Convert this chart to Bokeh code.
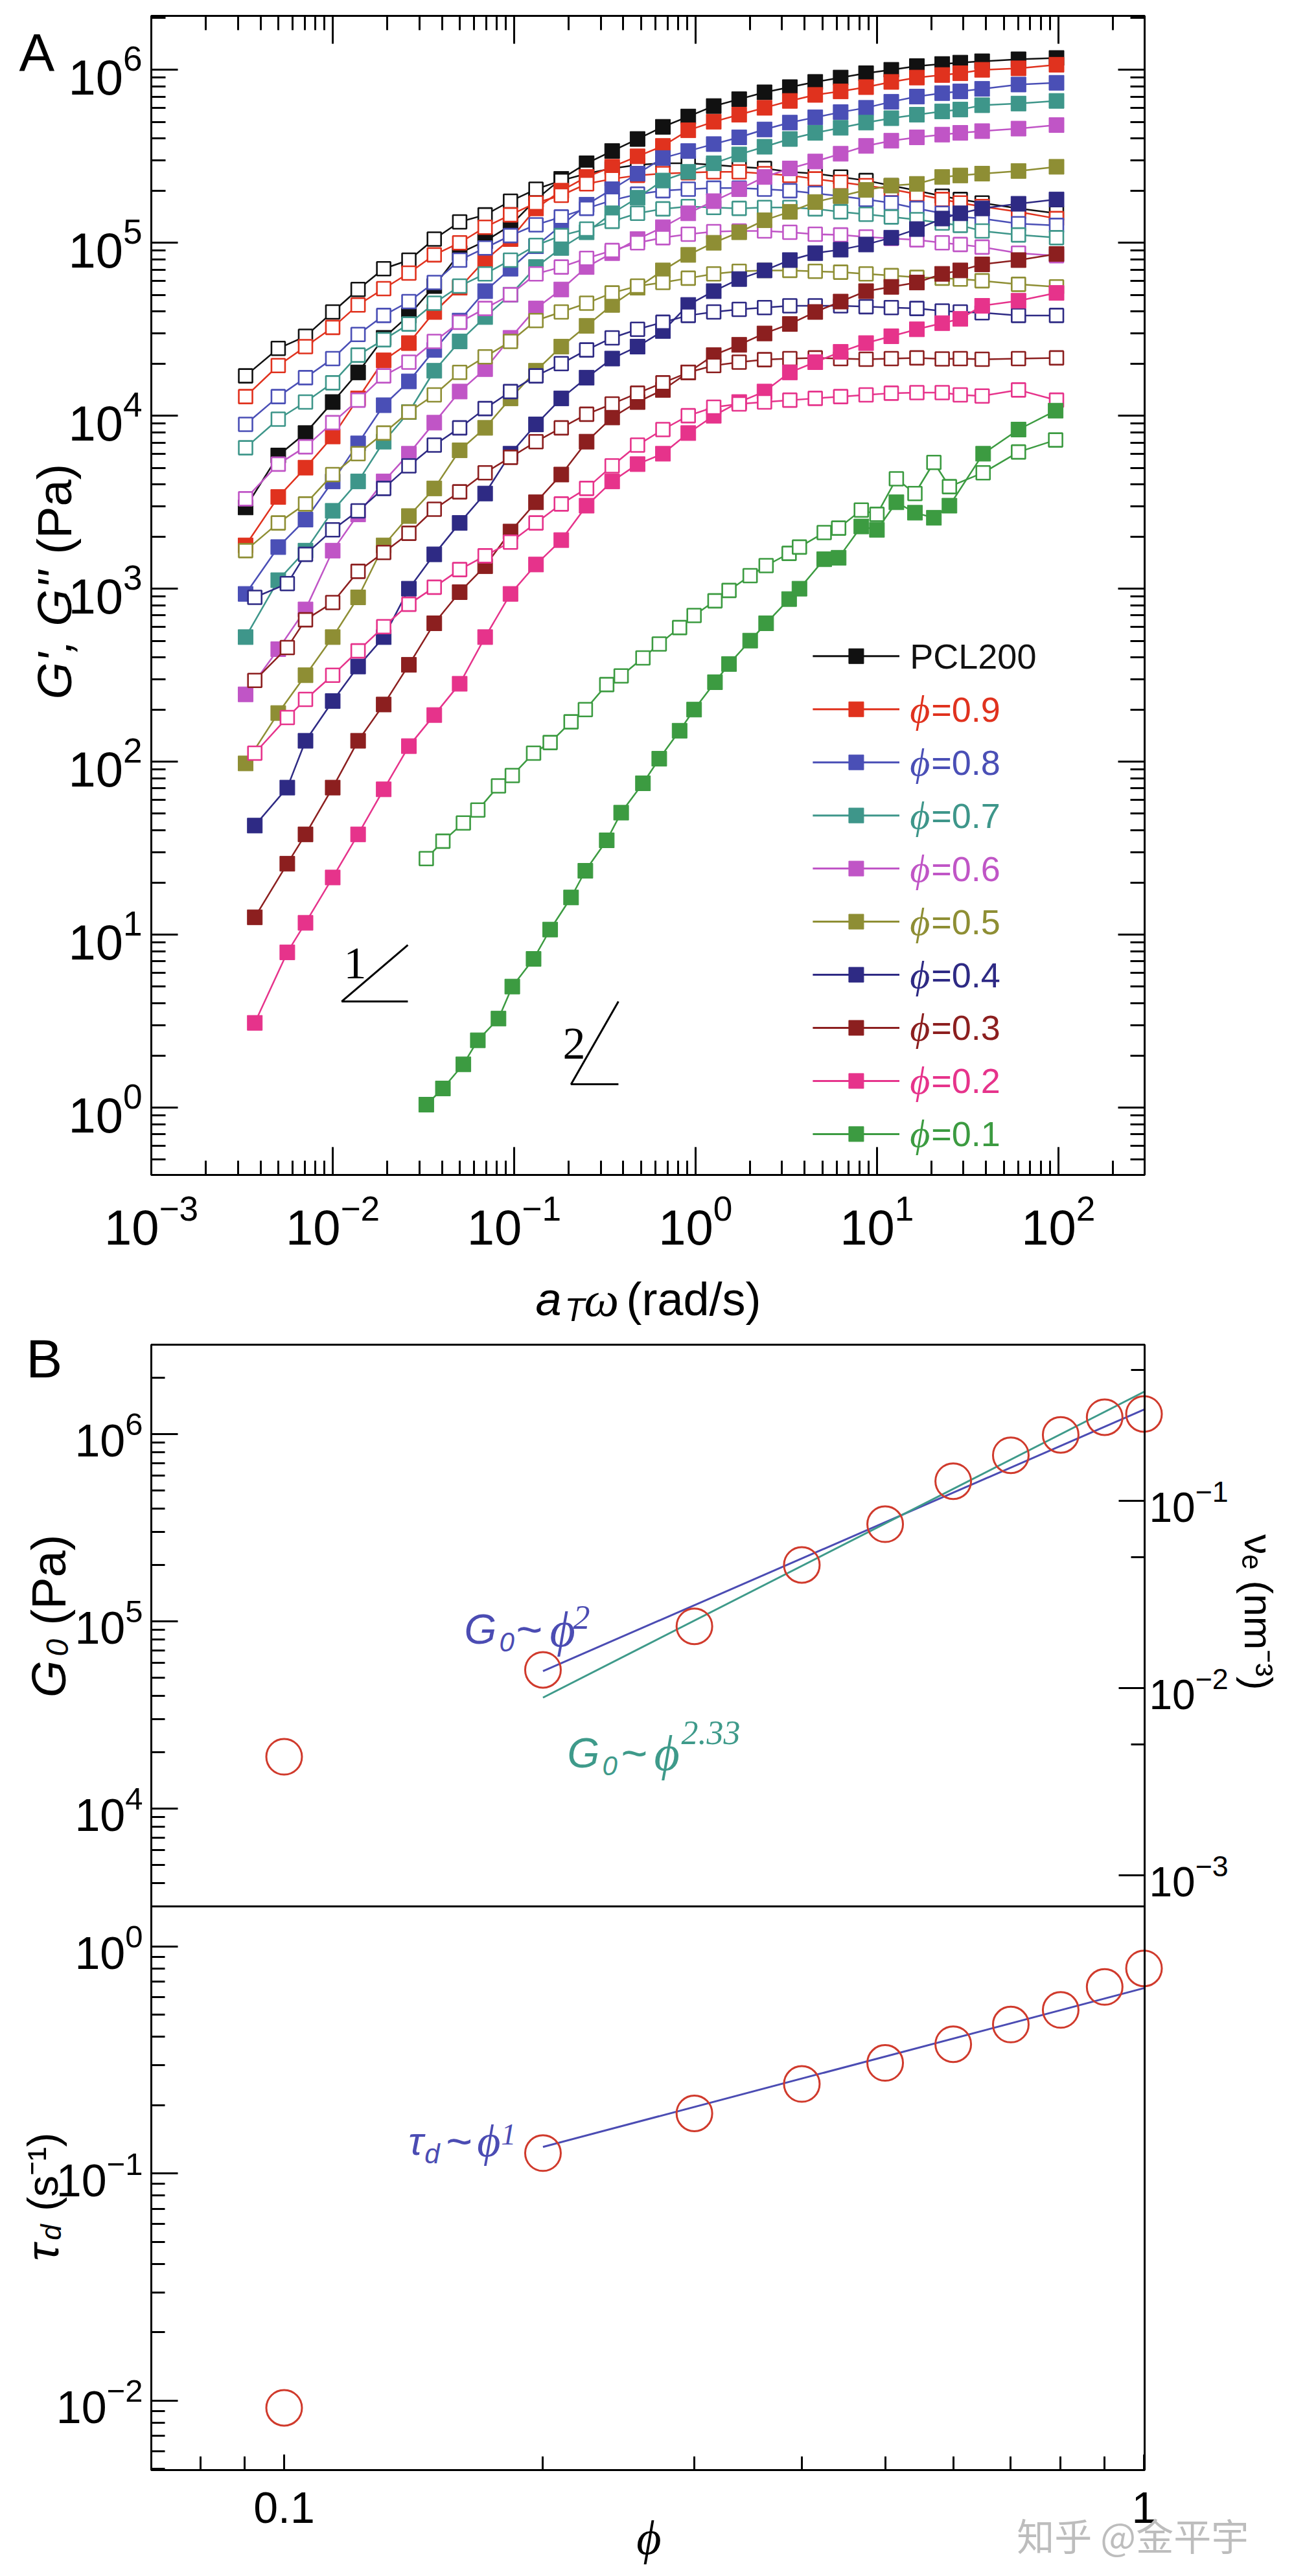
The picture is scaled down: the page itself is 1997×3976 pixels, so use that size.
import math
from bokeh.plotting import figure
from bokeh.models import (LogAxis, FixedTicker, Range1d, LogScale, Label, CustomJSTickFormatter,
                          BoxAnnotation)
from bokeh.embed import file_html
from bokeh.resources import INLINE

SANS = "Liberation Sans"
SERIF = "Liberation Serif"
PHI = "\u03d5"

# ---------------- Panel A data ----------------
freq = [3.31e-3, 5.01e-3, 7.08e-3, 1.00e-2, 1.38e-2, 1.91e-2, 2.63e-2, 3.63e-2, 5.01e-2, 6.92e-2,
        9.55e-2, 0.132, 0.182, 0.251, 0.347, 0.479, 0.661, 0.912, 1.26, 1.74, 2.40, 3.31, 4.57,
        6.31, 8.71, 12.0, 16.6, 22.9, 28.8, 38.0, 60.3, 97.7]
freq_b = [3.72e-3, 5.62e-3, 7.08e-3, 1.00e-2, 1.38e-2, 1.91e-2, 2.63e-2, 3.63e-2, 5.01e-2, 6.92e-2,
          9.55e-2, 0.132, 0.182, 0.251, 0.347, 0.479, 0.661, 0.912, 1.26, 1.74, 2.40, 3.31, 4.57,
          6.31, 8.71, 12.0, 16.6, 22.9, 28.8, 38.0, 60.3, 97.7]
freq_01 = [3.28e-2, 4.05e-2, 5.25e-2, 6.31e-2, 8.20e-2, 9.77e-2, 0.128, 0.158, 0.206, 0.247, 0.324,
           0.389, 0.513, 0.631, 0.817, 0.982, 1.28, 1.53, 2.00, 2.45, 3.28, 3.74, 5.12, 6.15, 8.20,
           10.0, 12.8, 16.2, 20.6, 25.1, 38.5, 60.3, 96.6]

Gp_pcl = [2.95e3, 5.89e3, 7.94e3, 1.20e4, 1.78e4, 2.82e4, 3.80e4, 5.62e4, 8.71e4, 1.02e5, 1.26e5, 1.78e5,
          2.34e5, 2.88e5, 3.39e5, 3.98e5, 4.68e5, 5.37e5, 6.17e5, 6.76e5, 7.41e5, 7.94e5, 8.51e5, 9.02e5,
          9.55e5, 1.00e6, 1.05e6, 1.08e6, 1.10e6, 1.12e6, 1.15e6, 1.17e6]
Gpp_pcl = [1.70e4, 2.45e4, 2.88e4, 3.98e4, 5.37e4, 7.08e4, 7.94e4, 1.05e5, 1.32e5, 1.45e5, 1.74e5, 2.04e5,
           2.29e5, 2.51e5, 2.69e5, 2.82e5, 2.88e5, 2.88e5, 2.82e5, 2.75e5, 2.69e5, 2.57e5, 2.51e5, 2.40e5,
           2.29e5, 2.14e5, 2.00e5, 1.86e5, 1.78e5, 1.70e5, 1.58e5, 1.48e5]
Gp_09 = [1.78e3, 3.39e3, 5.01e3, 7.59e3, 1.26e4, 2.09e4, 2.63e4, 3.98e4, 5.50e4, 7.94e4, 1.05e5, 1.58e5,
         2.00e5, 2.40e5, 2.75e5, 3.16e5, 3.63e5, 4.47e5, 5.01e5, 5.50e5, 6.03e5, 6.61e5, 7.16e5, 7.50e5,
         7.94e5, 8.51e5, 9.02e5, 9.33e5, 9.55e5, 1.00e6, 1.02e6, 1.07e6]
Gpp_09 = [1.29e4, 1.95e4, 2.51e4, 3.24e4, 4.37e4, 5.43e4, 6.68e4, 8.51e4, 1.00e5, 1.23e5, 1.45e5, 1.70e5,
          1.88e5, 2.19e5, 2.34e5, 2.45e5, 2.51e5, 2.54e5, 2.57e5, 2.57e5, 2.51e5, 2.45e5, 2.34e5, 2.24e5,
          2.14e5, 2.04e5, 1.91e5, 1.78e5, 1.70e5, 1.62e5, 1.51e5, 1.38e5]
Gp_08 = [933, 1.74e3, 2.51e3, 4.17e3, 6.92e3, 1.15e4, 1.58e4, 2.40e4, 3.55e4, 5.25e4, 7.08e4, 9.55e4,
         1.26e5, 1.66e5, 2.04e5, 2.51e5, 3.09e5, 3.39e5, 3.72e5, 4.07e5, 4.52e5, 4.95e5, 5.31e5, 5.69e5,
         6.03e5, 6.53e5, 7.00e5, 7.33e5, 7.50e5, 7.76e5, 8.22e5, 8.41e5]
Gpp_08 = [8.91e3, 1.29e4, 1.66e4, 2.14e4, 2.95e4, 3.80e4, 4.57e4, 5.89e4, 7.94e4, 9.33e4, 1.10e5, 1.27e5,
          1.41e5, 1.58e5, 1.76e5, 1.91e5, 2.00e5, 2.04e5, 2.07e5, 2.07e5, 2.04e5, 2.00e5, 1.93e5, 1.86e5,
          1.78e5, 1.70e5, 1.58e5, 1.48e5, 1.41e5, 1.38e5, 1.29e5, 1.26e5]
Gp_07 = [525, 1.12e3, 1.66e3, 2.82e3, 4.17e3, 7.08e3, 1.05e4, 1.82e4, 2.69e4, 3.72e4, 5.01e4, 7.24e4,
         9.33e4, 1.15e5, 1.48e5, 1.82e5, 2.29e5, 2.57e5, 2.88e5, 3.24e5, 3.59e5, 3.98e5, 4.32e5, 4.62e5,
         4.95e5, 5.25e5, 5.50e5, 5.75e5, 5.89e5, 6.24e5, 6.38e5, 6.61e5]
Gpp_07 = [6.53e3, 9.55e3, 1.20e4, 1.55e4, 2.24e4, 2.75e4, 3.39e4, 4.47e4, 5.62e4, 6.61e4, 7.94e4, 9.66e4,
          1.10e5, 1.20e5, 1.33e5, 1.48e5, 1.57e5, 1.62e5, 1.60e5, 1.58e5, 1.60e5, 1.60e5, 1.57e5, 1.51e5,
          1.46e5, 1.41e5, 1.36e5, 1.30e5, 1.26e5, 1.17e5, 1.11e5, 1.07e5]
Gp_06 = [245, 447, 759, 1.66e3, 2.69e3, 4.17e3, 6.03e3, 9.12e3, 1.38e4, 1.86e4, 2.82e4, 4.17e4,
         5.37e4, 7.24e4, 8.71e4, 1.05e5, 1.23e5, 1.48e5, 1.74e5, 2.04e5, 2.40e5, 2.69e5, 2.95e5, 3.27e5,
         3.63e5, 3.89e5, 4.07e5, 4.22e5, 4.32e5, 4.42e5, 4.57e5, 4.79e5]
Gpp_06 = [3.31e3, 5.25e3, 6.61e3, 9.12e3, 1.23e4, 1.70e4, 2.04e4, 2.69e4, 3.47e4, 4.17e4, 5.01e4, 6.61e4,
          7.24e4, 8.13e4, 9.02e4, 1.00e5, 1.07e5, 1.12e5, 1.16e5, 1.17e5, 1.17e5, 1.15e5, 1.12e5, 1.11e5,
          1.08e5, 1.06e5, 1.04e5, 1.00e5, 9.77e4, 9.44e4, 8.71e4, 8.41e4]
Gp_05 = [97.7, 191, 316, 525, 891, 1.78e3, 2.63e3, 3.80e3, 6.31e3, 8.51e3, 1.26e4, 1.82e4,
         2.51e4, 3.31e4, 4.37e4, 5.50e4, 6.92e4, 8.51e4, 1.00e5, 1.15e5, 1.35e5, 1.51e5, 1.72e5, 1.86e5,
         2.02e5, 2.14e5, 2.19e5, 2.40e5, 2.45e5, 2.51e5, 2.60e5, 2.75e5]
Gpp_05 = [1.66e3, 2.40e3, 3.09e3, 4.57e3, 6.03e3, 7.94e3, 1.05e4, 1.32e4, 1.78e4, 2.19e4, 2.69e4, 3.55e4,
          3.98e4, 4.47e4, 5.13e4, 5.62e4, 5.89e4, 6.24e4, 6.61e4, 6.84e4, 6.92e4, 6.92e4, 6.84e4, 6.76e4,
          6.61e4, 6.46e4, 6.31e4, 6.24e4, 6.17e4, 6.03e4, 5.75e4, 5.56e4]
Gp_04 = [42.7, 70.8, 132, 224, 355, 525, 1.00e3, 1.58e3, 2.40e3, 3.55e3, 6.03e3, 8.91e3,
         1.26e4, 1.66e4, 2.14e4, 2.51e4, 3.09e4, 4.37e4, 5.25e4, 6.17e4, 6.92e4, 7.94e4, 8.71e4, 9.12e4,
         9.77e4, 1.07e5, 1.20e5, 1.38e5, 1.48e5, 1.58e5, 1.68e5, 1.78e5]
Gpp_04 = [891, 1.07e3, 1.58e3, 2.19e3, 2.82e3, 3.80e3, 5.13e3, 6.76e3, 8.51e3, 1.10e4, 1.38e4, 1.70e4,
          2.00e4, 2.40e4, 2.82e4, 3.16e4, 3.47e4, 3.80e4, 3.98e4, 4.12e4, 4.22e4, 4.32e4, 4.32e4, 4.32e4,
          4.27e4, 4.22e4, 4.17e4, 4.03e4, 3.98e4, 3.94e4, 3.80e4, 3.80e4]
Gp_03 = [12.6, 25.7, 38.0, 70.8, 132, 214, 363, 631, 955, 1.35e3, 2.14e3, 3.16e3,
         4.57e3, 7.08e3, 9.77e3, 1.20e4, 1.41e4, 1.78e4, 2.24e4, 2.57e4, 2.99e4, 3.39e4, 3.98e4, 4.57e4,
         5.25e4, 5.56e4, 5.89e4, 6.61e4, 6.92e4, 7.50e4, 7.94e4, 8.61e4]
Gpp_03 = [295, 457, 661, 832, 1.26e3, 1.62e3, 2.09e3, 2.88e3, 3.63e3, 4.68e3, 5.75e3, 7.08e3,
          8.51e3, 1.02e4, 1.17e4, 1.35e4, 1.55e4, 1.78e4, 1.95e4, 2.04e4, 2.11e4, 2.14e4, 2.16e4, 2.14e4,
          2.12e4, 2.14e4, 2.16e4, 2.13e4, 2.14e4, 2.12e4, 2.14e4, 2.16e4]
Gp_02 = [3.09, 7.9, 11.7, 21.4, 38.0, 69.2, 123, 186, 282, 525, 933, 1.38e3,
         1.91e3, 3.02e3, 4.17e3, 5.25e3, 6.03e3, 7.94e3, 1.00e4, 1.20e4, 1.38e4, 1.78e4, 2.04e4, 2.34e4,
         2.63e4, 2.88e4, 3.16e4, 3.43e4, 3.63e4, 4.32e4, 4.62e4, 5.13e4]
Gpp_02 = [112, 180, 229, 316, 437, 603, 813, 1.02e3, 1.29e3, 1.55e3, 1.86e3, 2.40e3,
          3.09e3, 3.80e3, 5.13e3, 6.76e3, 8.32e3, 1.00e4, 1.12e4, 1.17e4, 1.20e4, 1.23e4, 1.26e4, 1.29e4,
          1.32e4, 1.35e4, 1.36e4, 1.36e4, 1.32e4, 1.30e4, 1.41e4, 1.23e4]
Gp_01 = [1.04, 1.29, 1.78, 2.45, 3.27, 5.01, 7.24, 10.7, 16.4, 23.4, 35.1, 50.7, 75.0, 104, 151, 200,
         288, 367, 501, 631, 871, 1.00e3, 1.48e3, 1.51e3, 2.29e3, 2.19e3, 3.16e3, 2.75e3, 2.57e3, 3.02e3,
         6.03e3, 8.32e3, 1.07e4]
Gpp_01 = [27.5, 34.7, 44.2, 52.5, 72.4, 83.2, 112, 129, 170, 200, 279, 313, 398, 479, 596, 700,
          851, 977, 1.19e3, 1.36e3, 1.60e3, 1.74e3, 2.11e3, 2.24e3, 2.85e3, 2.69e3, 4.32e3, 3.55e3, 5.37e3,
          3.89e3, 4.68e3, 6.17e3, 7.24e3]

legend_names = ["PCL200", "0.9", "0.8", "0.7", "0.6", "0.5", "0.4", "0.3", "0.2", "0.1"]
colors = ["#111111", "#E0321E", "#4A4FB6", "#3E968A", "#C055C6", "#8E8E34", "#2E2A84", "#8C1F1F",
          "#E6338B", "#3C9B41"]

# ---------------- Panel B data ----------------
phi = [0.1, 0.2, 0.3, 0.4, 0.5, 0.6, 0.7, 0.8, 0.9, 1.0]
G0 = [1.89e4, 5.5e4, 9.4e4, 2.0e5, 3.3e5, 5.6e5, 7.7e5, 9.9e5, 1.23e6, 1.28e6]
tau_d = [0.0093, 0.123, 0.184, 0.248, 0.307, 0.371, 0.453, 0.525, 0.663, 0.80]
fit_phi = [0.2, 1.0]
fit_G0_p2 = [5.42e4, 1.35e6]
fit_G0_p233 = [3.91e4, 1.68e6]
fit_tau_p1 = [0.131, 0.655]

RED = "#D03A2C"
BLUE = "#4B4CB3"
TEAL = "#3E9A8A"

# ---------------- page geometry (pixels of the page) ----------------
W, H = 1981, 3960
C_LEFT, C_RIGHT, C_TOP, C_BOTTOM = 8, 8 + W, 8, 8 + H
BOX_L, BOX_R = 241, 1774
A_TOP, A_BOT = 32, 1821
B1_TOP, B1_BOT = 2083, 2950
B2_TOP, B2_BOT = 2950, 3820

# axis limits of the drawn boxes
xA = (1e-3, 299.0)
yA = (0.408, 2.05e6)
xBl = (0.07007, 1.0017)
yB1 = (3.0e3, 3.0e6)
nuB1 = (6.82e-4, 0.682)
yB2 = (0.00495, 1.50)


def span(lim, p_lo, p_hi, c_lo, c_hi):
    a, b = math.log10(lim[0]), math.log10(lim[1])
    per = (b - a) / (p_hi - p_lo)
    return Range1d(10 ** (a + per * (c_lo - p_lo)), 10 ** (a + per * (c_hi - p_lo)))


def decade_ticks(e0, e1, lo, hi):
    major = [10.0 ** e for e in range(e0, e1 + 1) if lo * 0.999 <= 10.0 ** e <= hi * 1.001]
    minor = [m * 10.0 ** e for e in range(e0 - 1, e1 + 1) for m in range(2, 10)
             if lo * 0.999 <= m * 10.0 ** e <= hi * 1.001]
    return FixedTicker(ticks=major, minor_ticks=minor)


p = figure(width=W, height=H, x_axis_type="log", y_axis_type="log",
           x_range=span(xA, BOX_L, BOX_R, C_LEFT, C_RIGHT),
           y_range=span(yA, A_BOT, A_TOP, C_BOTTOM, C_TOP),
           x_axis_location=None, y_axis_location=None,
           output_backend="svg", toolbar_location=None,
           min_border_left=0, min_border_right=0, min_border_top=0, min_border_bottom=0)
p.outline_line_color = None
p.background_fill_color = "white"
p.border_fill_color = "white"
for g in p.grid:
    g.visible = False

p.extra_x_ranges = {"phi": span(xBl, BOX_L, BOX_R, C_LEFT, C_RIGHT)}
p.extra_x_scales = {"phi": LogScale()}
p.extra_y_ranges = {"G0": span(yB1, B1_BOT, B1_TOP, C_BOTTOM, C_TOP),
                    "nu": span(nuB1, B1_BOT, B1_TOP, C_BOTTOM, C_TOP),
                    "tau": span(yB2, B2_BOT, B2_TOP, C_BOTTOM, C_TOP)}
p.extra_y_scales = {"G0": LogScale(), "nu": LogScale(), "tau": LogScale()}


def add_axis(side, ticker, fixed, bounds, major_in, minor_in, size=0, standoff=0,
             labels=True, formatter=None, xr="default", yr="default"):
    ax = LogAxis(ticker=ticker, fixed_location=fixed, bounds=bounds,
                 x_range_name=xr, y_range_name=yr)
    if formatter is not None:
        ax.formatter = formatter
    ax.axis_line_color = None
    ax.major_tick_in = major_in
    ax.major_tick_out = 0
    ax.minor_tick_in = minor_in
    ax.minor_tick_out = 0
    ax.major_tick_line_width = 3
    ax.minor_tick_line_width = 3
    ax.major_tick_line_color = "black"
    ax.minor_tick_line_color = "black"
    ax.major_label_text_font = SANS
    ax.major_label_text_color = "black"
    ax.major_label_text_font_size = f"{size}px"
    ax.major_label_standoff = standoff
    if not labels:
        ax.major_label_text_font_size = "0px"
        ax.major_label_text_color = None
        ax.major_label_standoff = 0
    p.add_layout(ax, side)
    return ax


def label(x, y, text, size, color="black", font=SANS, style="normal", dx=0, angle=0.0,
          align="left", baseline="alphabetic", xr="default", yr="default"):
    p.add_layout(Label(x=x, y=y, text=text, x_offset=dx, angle=angle, text_font=font,
                       text_font_size=f"{size}px", text_color=color, text_font_style=style,
                       text_align=align, text_baseline=baseline,
                       x_range_name=xr, y_range_name=yr))


def box(xl, yl, xr="default", yr="default"):
    p.add_layout(BoxAnnotation(left=xl[0], right=xl[1], bottom=yl[0], top=yl[1],
                               fill_alpha=0, fill_color=None, line_color="black",
                               line_alpha=1.0, line_width=3, x_range_name=xr, y_range_name=yr))


# ================= Panel A =================
add_axis("below", decade_ticks(-3, 2, *xA), yA[0], xA, 43, 22, 76, 30)
add_axis("left", decade_ticks(0, 6, *yA), xA[0], yA, 41, 22, 76, 14)
add_axis("above", decade_ticks(-3, 2, *xA), yA[1], xA, 43, 22, labels=False)
add_axis("right", decade_ticks(0, 6, *yA), xA[1], yA, 41, 22, labels=False)
box(xA, yA)

seriesA = [
    (freq, Gp_pcl, Gpp_pcl), (freq, Gp_09, Gpp_09), (freq, Gp_08, Gpp_08), (freq, Gp_07, Gpp_07),
    (freq, Gp_06, Gpp_06), (freq, Gp_05, Gpp_05), (freq_b, Gp_04, Gpp_04), (freq_b, Gp_03, Gpp_03),
    (freq_b, Gp_02, Gpp_02), (freq_01, Gp_01, Gpp_01),
]
for (fx, gp, gpp), col in zip(seriesA, colors):
    p.line(fx, gp, line_color=col, line_width=2.5)
    p.scatter(fx, gp, marker="square", size=23, fill_color=col, line_color=col, line_width=1)
    p.line(fx, gpp, line_color=col, line_width=2.5)
    p.scatter(fx, gpp, marker="square", size=21, fill_color="white", line_color=col, line_width=2.6)

# legend (drawn by hand so every entry keeps its own colour)
leg_rows = [10 ** (2.61 - 0.307 * k) for k in range(10)]
for k, (name, col) in enumerate(zip(legend_names, colors)):
    yk = leg_rows[k]
    p.line([4.43, 13.3], [yk, yk], line_color=col, line_width=3)
    p.scatter([7.69], [yk], marker="square", size=23, fill_color=col, line_color=col)
    if name == "PCL200":
        label(15.2, yk, name, 54, col, baseline="middle")
    else:
        label(15.2, yk, PHI, 60, col, SERIF, "italic", baseline="middle")
        label(15.2, yk, "=" + name, 54, col, dx=33, baseline="middle")

# slope guides
p.line([0.02596, 0.01122, 0.02596], [8.71, 4.11, 4.11], line_color="black", line_width=3)
p.line([0.3758, 0.2061, 0.3758], [4.11, 1.365, 1.365], line_color="black", line_width=3)
label(0.01151, 6.84, "1", 70, font=SERIF)
label(0.1854, 2.33, "2", 70, font=SERIF)

# axis titles and panel letter
label(1.868e-4, 1.26e6, "A", 82)
label(2.94e-4, 229, "G', G''", 74, style="italic", angle=math.pi / 2)
label(2.94e-4, 1581, "(Pa)", 74, angle=math.pi / 2)
label(0.1312, 0.0785, "a", 72, style="italic")
label(0.1312, 0.0673, "T", 50, style="italic", dx=45)
label(0.1312, 0.0785, "\u03c9", 76, font=SERIF, style="italic", dx=75)
label(0.1312, 0.0785, "(rad/s)", 72, dx=140)

# ================= Panel B (top) =================
add_axis("left", decade_ticks(4, 6, *yB1), xBl[0], yB1, 41, 21, 70, 13, xr="phi", yr="G0")
add_axis("right", FixedTicker(ticks=[1e-3, 1e-2, 1e-1], minor_ticks=[5e-3, 5e-2, 5e-1]),
         xBl[1], nuB1, 40, 21, 64, 7, xr="phi", yr="nu")
box(xBl, yB1, "phi", "G0")

p.line(fit_phi, fit_G0_p2, line_color=BLUE, line_width=3, x_range_name="phi", y_range_name="G0")
p.line(fit_phi, fit_G0_p233, line_color=TEAL, line_width=3, x_range_name="phi", y_range_name="G0")
p.scatter(phi, G0, marker="circle", size=55, fill_color=None, line_color=RED, line_width=3,
          x_range_name="phi", y_range_name="G0")

B1 = dict(xr="phi", yr="G0")
label(0.0501, 2.52e6, "B", 84, **B1)
label(0.05326, 3.91e4, "G", 74, style="italic", angle=math.pi / 2, **B1)
label(0.05326, 6.50e4, "0", 48, style="italic", angle=math.pi / 2, dx=13, **B1)
label(0.05326, 9.53e4, "(Pa)", 74, angle=math.pi / 2, **B1)
label(1.359, 2.91e5, "\u03bd\u2091 (nm\u207b\u00b3)", 62, angle=-math.pi / 2, baseline="middle", **B1)

label(0.162, 9.02e4, "G", 64, BLUE, style="italic", **B1)
label(0.162, 7.74e4, "0", 42, BLUE, style="italic", dx=54, **B1)
label(0.162, 9.02e4, "~", 70, BLUE, dx=80, **B1)
label(0.162, 9.02e4, PHI, 76, BLUE, SERIF, "italic", dx=132, **B1)
label(0.162, 1.05e5, "2", 52, BLUE, SERIF, "italic", dx=168, **B1)

label(0.2135, 1.97e4, "G", 64, TEAL, style="italic", **B1)
label(0.2135, 1.69e4, "0", 42, TEAL, style="italic", dx=54, **B1)
label(0.2135, 1.97e4, "~", 70, TEAL, dx=83, **B1)
label(0.2135, 1.97e4, PHI, 76, TEAL, SERIF, "italic", dx=134, **B1)
label(0.2135, 2.54e4, "2.33", 52, TEAL, SERIF, "italic", dx=176, **B1)

# ================= Panel B (bottom) =================
add_axis("left", decade_ticks(-2, 0, *yB2), xBl[0], yB2, 41, 21, 70, 13, xr="phi", yr="tau")
add_axis("below",
         FixedTicker(ticks=[0.1, 1.0], minor_ticks=[0.08, 0.09, 0.2, 0.3, 0.4, 0.5, 0.6, 0.7, 0.8, 0.9]),
         yB2[0], xBl, 24, 21, 68, 34, formatter=CustomJSTickFormatter(code="return String(tick)"),
         xr="phi", yr="tau")
box(xBl, yB2, "phi", "tau")

p.line(fit_phi, fit_tau_p1, line_color=BLUE, line_width=3, x_range_name="phi", y_range_name="tau")
p.scatter(phi, tau_d, marker="circle", size=55, fill_color=None, line_color=RED, line_width=3,
          x_range_name="phi", y_range_name="tau")

B2 = dict(xr="phi", yr="tau")
label(0.05244, 0.04124, "\u03c4", 70, style="italic", angle=math.pi / 2, **B2)
label(0.05244, 0.0509, "d", 44, style="italic", angle=math.pi / 2, dx=12, **B2)
label(0.05244, 0.0684, "(s\u207b\u00b9)", 66, angle=math.pi / 2, **B2)

label(0.1395, 0.139, "\u03c4", 62, BLUE, style="italic", **B2)
label(0.1395, 0.122, "d", 42, BLUE, style="italic", dx=25, **B2)
label(0.1395, 0.139, "~", 70, BLUE, dx=58, **B2)
label(0.1395, 0.139, PHI, 70, BLUE, SERIF, "italic", dx=106, **B2)
label(0.1395, 0.1486, "1", 46, BLUE, SERIF, "italic", dx=143, **B2)

label(0.2656, 0.0025, PHI, 74, font=SERIF, style="italic", align="center", **B2)
label(0.7114, 0.00258, "知乎 @金平宇", 58, "#BDBDBD", "Noto Sans CJK SC", **B2)

open("out.html", "w").write(file_html(p, INLINE))
